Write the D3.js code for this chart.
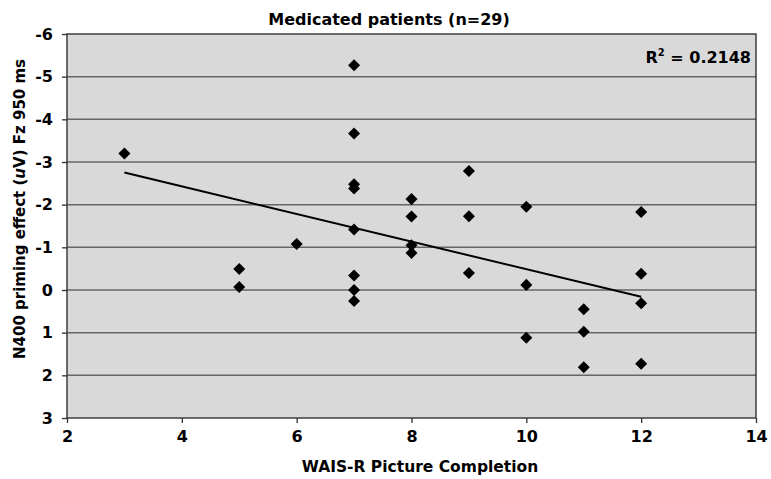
<!DOCTYPE html>
<html>
<head>
<meta charset="utf-8">
<script src="https://cdnjs.cloudflare.com/ajax/libs/d3/7.8.5/d3.min.js"></script>
<style>
	body { margin: 0; background: #fff; }
	text { font-family: "DejaVu Sans", Verdana, sans-serif; font-weight: bold; fill: #000; }
</style>
</head>
<body>
<div id="chart"></div>
<script>
// data
let wais = [3, 5, 5, 6, 7, 7, 7, 7, 7, 7, 7, 7, 8, 8, 8, 8, 9, 9, 9, 10, 10, 10, 11, 11, 11, 12, 12, 12, 12];
let n400 = [-3.2, -0.49, -0.07, -1.08, -5.27, -3.67, -2.48, -2.38, -1.42, -0.34, 0, 0.26,
	-2.13, -1.72, -1.05, -0.87, -2.79, -1.73, -0.4, -1.95, -0.12, 1.12, 0.45, 0.98, 1.81,
	-1.83, -0.38, 0.31, 1.73];
let x_ticks = [2, 4, 6, 8, 10, 12, 14];
let y_ticks = [-6, -5, -4, -3, -2, -1, 0, 1, 2, 3];
let r2_label = "0.2148";

function chart() {
	let width = 771, height = 479;
	let margin = {top: 34, right: 15, bottom: 61, left: 67};
	let w = width - margin.left - margin.right,
		h = height - margin.top - margin.bottom;

	let svg = d3.select("#chart").append("svg")
		.attr("width", width)
		.attr("height", height);

	let plot = svg.append("g")
		.attr("transform", "translate(" + margin.left + "," + margin.top + ")");

	let x = d3.scaleLinear().domain([2, 14]).range([0, w]);
	let y = d3.scaleLinear().domain([-6, 3]).range([0, h]);

	plot.append("rect")
		.attr("width", w)
		.attr("height", h)
		.attr("fill", "#d9d9d9");

	// horizontal grid
	plot.selectAll(".grid")
		.data(y_ticks.slice(1, -1))
		.enter().append("line")
		.attr("x1", 0).attr("x2", w)
		.attr("y1", d => y(d)).attr("y2", d => y(d))
		.attr("stroke", "#666")
		.attr("stroke-width", 1.5);

	plot.append("rect")
		.attr("width", w)
		.attr("height", h)
		.attr("fill", "none")
		.attr("stroke", "#333")
		.attr("stroke-width", 1.4);

	let xAxis = plot.append("g")
		.attr("transform", "translate(0," + h + ")")
		.call(d3.axisBottom(x).tickValues(x_ticks).tickSize(5).tickPadding(8).tickFormat(d3.format("d")));
	let yAxis = plot.append("g")
		.call(d3.axisLeft(y).tickValues(y_ticks).tickSize(5).tickPadding(9).tickFormat(d => d));

	[xAxis, yAxis].forEach(function(a) {
		a.attr("font-size", null).attr("font-family", null);
		a.select(".domain").remove();
		a.selectAll("line").attr("stroke", "#333").attr("stroke-width", 1.3);
		a.selectAll("text").style("font-size", "16px").attr("fill", "#000");
	});

	// regression from the points
	let mx = d3.mean(wais), my = d3.mean(n400);
	let sxy = d3.sum(wais, (d, i) => (d - mx) * (n400[i] - my));
	let sxx = d3.sum(wais, d => (d - mx) * (d - mx));
	let slope = sxy / sxx, icpt = my - slope * mx;
	let ext = d3.extent(wais);
	plot.append("line")
		.attr("x1", x(ext[0])).attr("y1", y(icpt + slope * ext[0]))
		.attr("x2", x(ext[1])).attr("y2", y(icpt + slope * ext[1]))
		.attr("stroke", "#000")
		.attr("stroke-width", 2);

	plot.selectAll(".pt")
		.data(wais)
		.enter().append("path")
		.attr("d", d3.symbol().type(d3.symbolDiamond2).size(92))
		.attr("transform", (d, i) => "translate(" + x(d) + "," + y(n400[i]) + ")")
		.attr("fill", "#000");

	let r2 = plot.append("text")
		.attr("x", w - 5)
		.attr("y", 29)
		.attr("text-anchor", "end")
		.style("font-size", "16px");
	r2.append("tspan").text("R");
	r2.append("tspan").attr("dy", -7).style("font-size", "10px").text("2");
	r2.append("tspan").attr("dy", 7).text(" = " + r2_label);

	svg.append("text")
		.attr("x", 389)
		.attr("y", 25)
		.attr("text-anchor", "middle")
		.style("font-size", "16px")
		.text("Medicated patients (n=29)");

	svg.append("text")
		.attr("x", 420)
		.attr("y", 472)
		.attr("text-anchor", "middle")
		.style("font-size", "15.5px")
		.text("WAIS-R Picture Completion");

	let yl = svg.append("text")
		.attr("transform", "translate(25,209) rotate(-90)")
		.attr("text-anchor", "middle")
		.style("font-size", "15px");
	yl.append("tspan").text("N400 priming effect (");
	yl.append("tspan").style("font-style", "italic").text("u");
	yl.append("tspan").text("V) Fz 950 ms");
}

chart();
</script>
</body>
</html>
